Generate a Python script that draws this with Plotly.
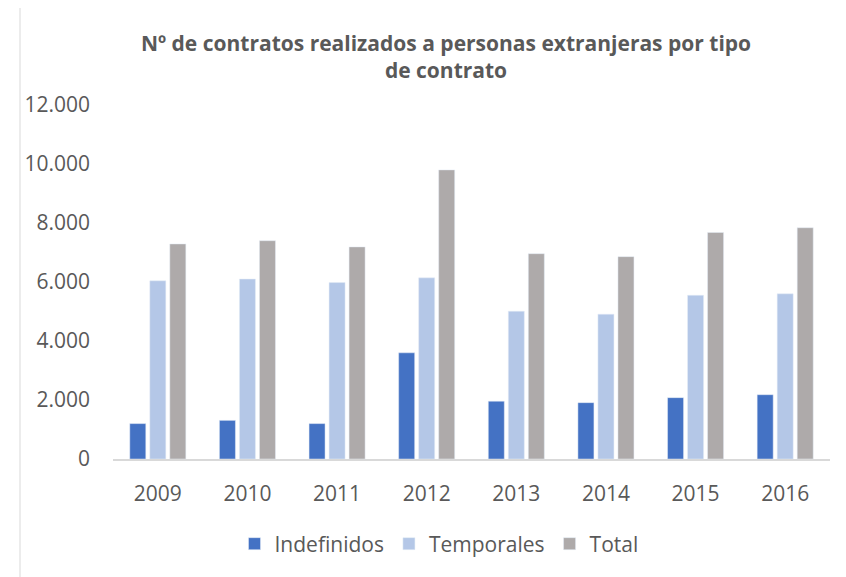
import plotly.graph_objects as go

years = ["2009", "2010", "2011", "2012", "2013", "2014", "2015", "2016"]
indefinidos = [1200, 1310, 1200, 3600, 1960, 1910, 2080, 2180]
temporales = [6040, 6100, 5980, 6140, 5010, 4910, 5550, 5600]
total = [7290, 7400, 7190, 9800, 6960, 6860, 7680, 7840]
y_ticks = [0, 2000, 4000, 6000, 8000, 10000, 12000]

OFF = 8  # page body margin
W, H = 846 - OFF, 577 - OFF
L, R, T, B = 113 - OFF, 16, 105 - OFF, 118
pw, ph = W - L - R, H - T - B

FONT = "Open Sans"
GRAY = "#595959"

fig = go.Figure()
fig.add_bar(x=years, y=indefinidos, name="Indefinidos", marker_color="#4472C4")
fig.add_bar(x=years, y=temporales, name="Temporales", marker_color="#B4C7E7")
fig.add_bar(x=years, y=total, name="Total", marker_color="#AEAAAA")

fig.update_layout(
    width=W, height=H,
    margin=dict(l=L, r=R, t=T, b=B, pad=0),
    paper_bgcolor="white", plot_bgcolor="white",
    separators=",.",
    barmode="group", bargap=0.33, bargroupgap=0.2,
    font=dict(family=FONT, size=21, color=GRAY),
    title=dict(
        text="<b>Nº de contratos realizados a personas extranjeras por tipo<br>de contrato</b>",
        x=(446 - OFF) / W, xanchor="center", xref="container",
        y=1 - 43 / H, yanchor="top", yref="container",
        font=dict(family=FONT, size=21, color=GRAY),
    ),
    legend=dict(
        orientation="h", x=(439 - OFF - L) / pw, xanchor="center",
        y=-(544 - OFF - (T + ph)) / ph, yanchor="middle",
        font=dict(family=FONT, size=21, color=GRAY),
        itemwidth=30, tracegroupgap=0,
    ),
    showlegend=True,
)
fig.update_xaxes(
    showline=True, linecolor="#D9D9D9", linewidth=1.5,
    showgrid=False, ticks="", ticklabelstandoff=15,
    tickfont=dict(family=FONT, size=21, color=GRAY),
)
fig.update_yaxes(
    range=[0, 12000], tickvals=y_ticks, tickformat=",d",
    showline=False, showgrid=False, zeroline=False, ticks="",
    ticklabelstandoff=22,
    tickfont=dict(family=FONT, size=21, color=GRAY),
)
# chart area border
fig.add_shape(
    type="rect", xref="paper", yref="paper",
    x0=(20 - OFF - L) / pw, x1=(W + 40 - L) / pw,
    y0=-(H + 40 - (T + ph)) / ph, y1=1 + (T - (7 - OFF)) / ph,
    line=dict(color="#D9D9D9", width=1), fillcolor="rgba(0,0,0,0)", layer="below",
)

fig.write_html("out.html")
